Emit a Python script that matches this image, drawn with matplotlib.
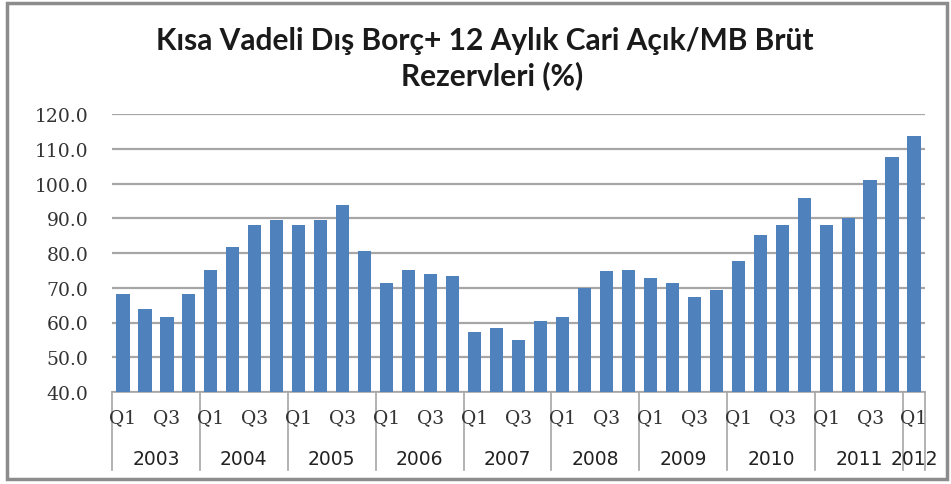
import matplotlib.pyplot as plt
import matplotlib.transforms as mtransforms
from matplotlib.patches import Rectangle

years = ["2003", "2004", "2005", "2006", "2007", "2008", "2009", "2010", "2011", "2012"]
quarters_per_year = [4, 4, 4, 4, 4, 4, 4, 4, 4, 1]
values = [68.2, 63.9, 61.7, 68.2,
          75.0, 81.7, 88.2, 89.4,
          88.2, 89.4, 93.7, 80.5,
          71.3, 75.0, 74.0, 73.5,
          57.4, 58.4, 55.1, 60.3,
          61.7, 70.0, 74.7, 75.0,
          72.7, 71.3, 67.3, 69.4,
          77.7, 85.1, 88.2, 95.9,
          88.2, 90.0, 100.9, 107.6,
          113.7]
yticks = [40, 50, 60, 70, 80, 90, 100, 110, 120]

fig = plt.figure(figsize=(9.51, 4.85), dpi=100)
ax = fig.add_axes([112 / 951, 1 - 393 / 485, (925 - 112) / 951, (393 - 115) / 485])

x = list(range(len(values)))
ax.bar(x, values, width=0.6, color="#4F81BD", zorder=3)

ax.set_ylim(40, 120)
ax.set_xlim(-0.5, len(values) - 0.5)
ax.set_yticks(yticks)
ax.set_yticklabels([f"{v:.1f}" for v in yticks], fontfamily="DejaVu Serif",
                   fontsize=13.5, color="#333333")
ax.yaxis.grid(True, color="#A6A6A6", linewidth=1.6, zorder=0)
ax.tick_params(axis="y", length=0, pad=17)
ax.set_xticks([])
for s in ["left", "right", "top"]:
    ax.spines[s].set_visible(False)
ax.spines["bottom"].set_color("#A6A6A6")
ax.spines["bottom"].set_linewidth(1.2)

# category labels: quarters and years
trans = mtransforms.blended_transform_factory(ax.transData, ax.transAxes)
pos = 0
bounds = [-0.5]
for yr, n in zip(years, quarters_per_year):
    for q in range(n):
        if q % 2 == 0:
            ax.text(pos + q, -0.09, f"Q{q + 1}", transform=trans, ha="center", va="center",
                    fontfamily="DejaVu Serif", fontsize=13.5, color="#333333")
    ax.text(pos + (n - 1) / 2, -0.24, yr, transform=trans, ha="center", va="center",
            fontfamily="DejaVu Sans", fontsize=13.5, color="#222222")
    pos += n
    bounds.append(pos - 0.5)
for b in bounds:
    ax.plot([b, b], [0, -0.28], transform=trans, color="#A6A6A6", linewidth=1.2,
            clip_on=False)

fig.text(485 / 951, 1 - 41 / 485, "Kısa Vadeli Dış Borç+ 12 Aylık Cari Açık/MB Brüt",
         ha="center", va="center", fontfamily="Lato", fontweight="bold", fontsize=21.5,
         color="#1a1a1a")
fig.text(492 / 951, 1 - 76 / 485, "Rezervleri (%)", ha="center", va="center",
         fontfamily="Lato", fontweight="bold", fontsize=21.5, color="#1a1a1a")

# outer frame
fig.patches.append(Rectangle((7 / 951, 5 / 485), 940 / 951, 476 / 485,
                             transform=fig.transFigure, fill=False,
                             edgecolor="#8C8C8C", linewidth=2.5))

fig.savefig("out.png", dpi=100)
